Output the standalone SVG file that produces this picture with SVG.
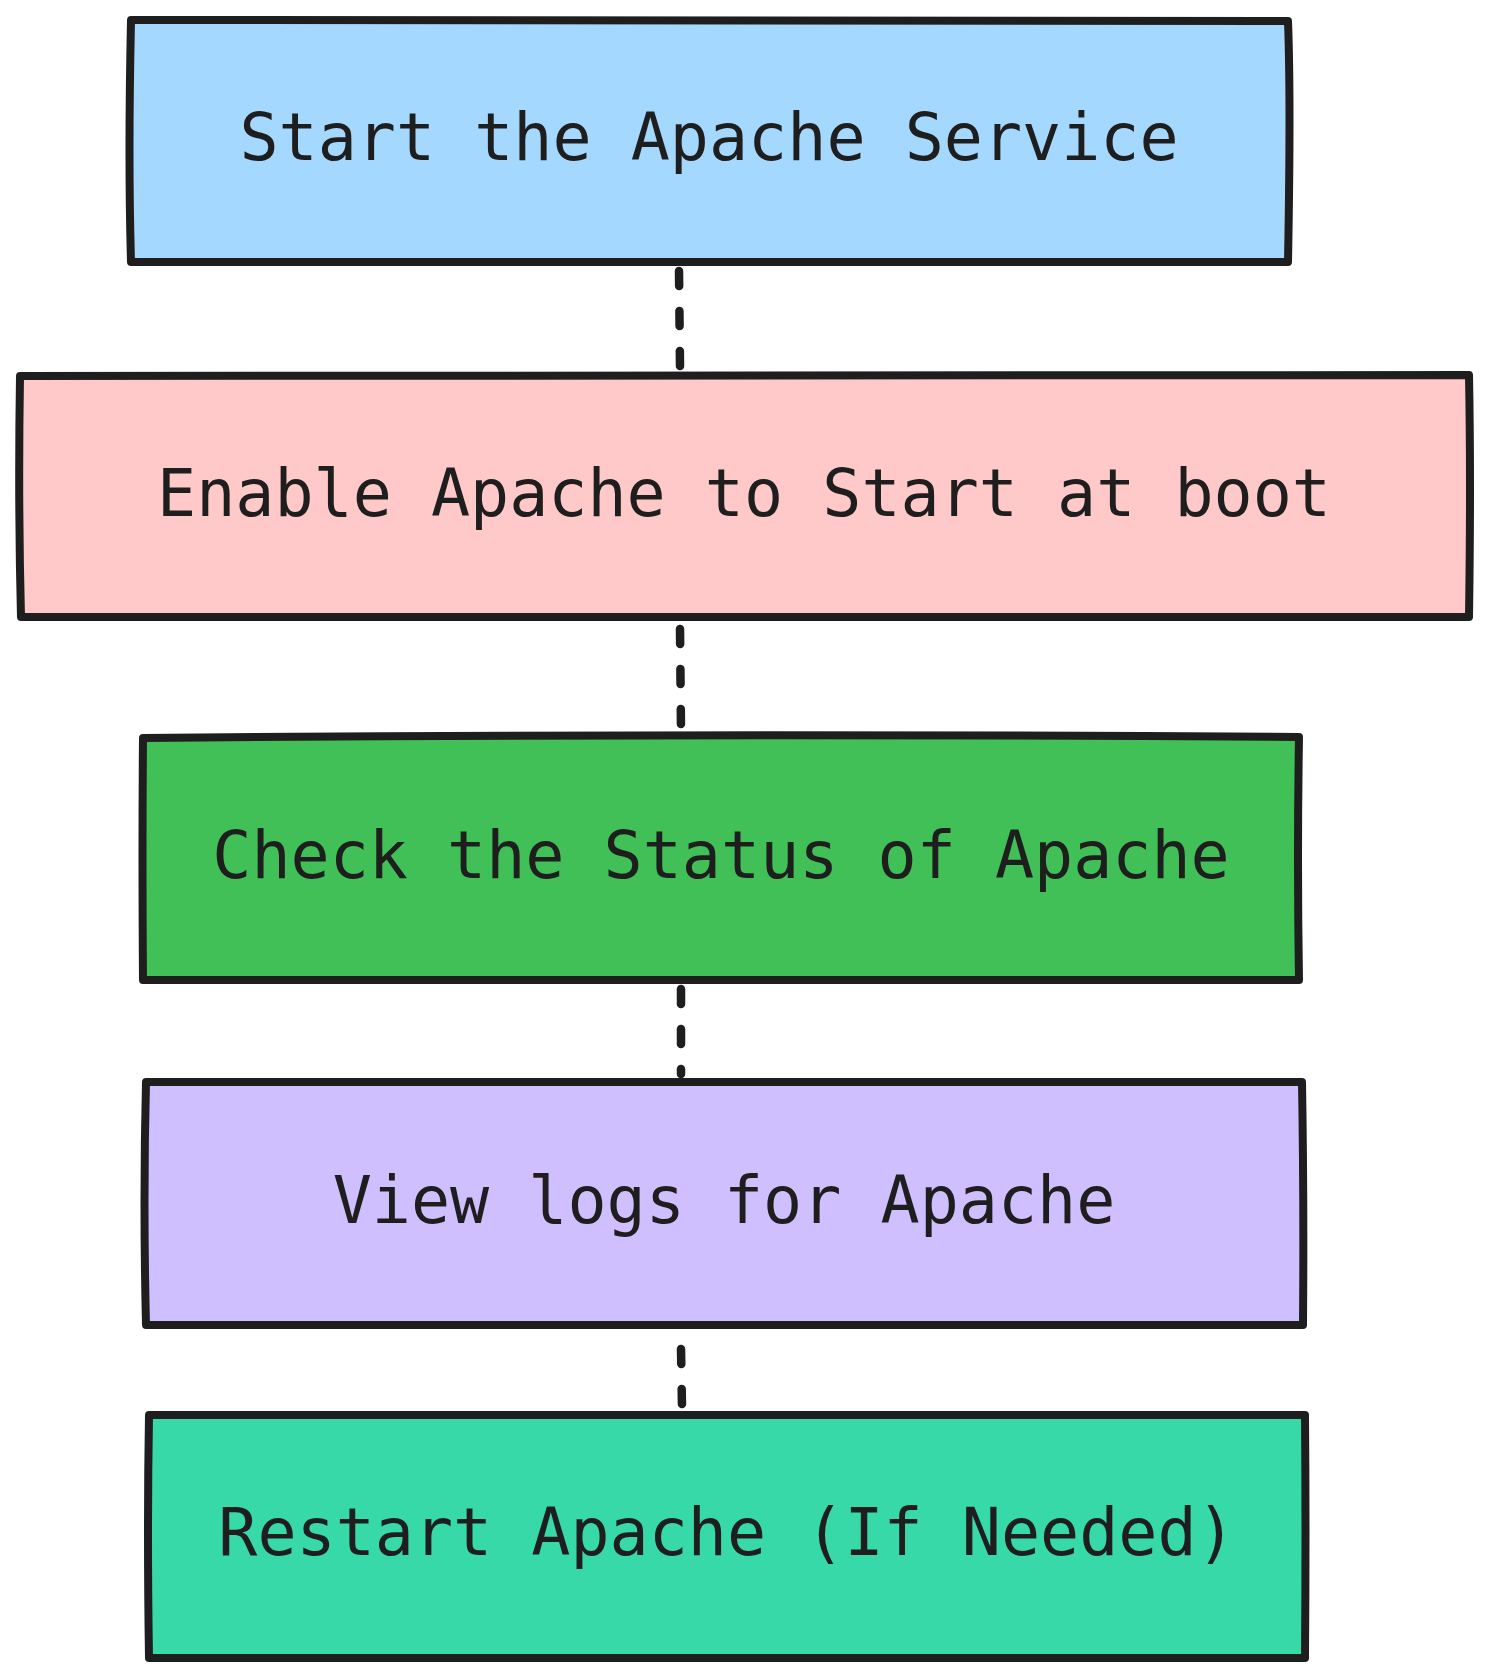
<svg xmlns="http://www.w3.org/2000/svg" width="1490" height="1677" viewBox="0 0 1490 1677">
<style>
.box{stroke:#1e1e1e;stroke-width:8;stroke-linejoin:round;stroke-linecap:round}
.lbl{font-family:"DejaVu Sans Mono","Liberation Mono",monospace;font-size:65px;fill:#1e1e1e;text-anchor:middle}
.edge{stroke:#1e1e1e;stroke-width:8.5;stroke-linecap:round;stroke-dasharray:15 25;fill:none}
</style>
<rect width="1490" height="1677" fill="#ffffff"/>
<g id="connectors">
<path class="edge" d="M679 271 L680 367"/>
<path class="edge" d="M680 629 L681 729"/>
<path class="edge" d="M681 989 L681 1074"/>
<path class="edge" d="M681 1349 L682 1407"/>
</g>
<g id="n1">
<path class="box" fill="#a5d8ff" d="M131 20 L1288 21 Q1291 100 1288 262 L131 262 Q128 160 131 20 Z"/>
<text class="lbl" x="709" y="160">Start the Apache Service</text>
</g>
<g id="n2">
<path class="box" fill="#ffc9c9" d="M20 376 L1469 375 Q1471 480 1469 617 L21 617 Q18 500 20 376 Z"/>
<text class="lbl" x="744" y="516">Enable Apache to Start at boot</text>
</g>
<g id="n3">
<path class="box" fill="#40c057" d="M143 738 Q700 733 1299 737 Q1297 860 1299 980 L143 980 Q142 850 143 738 Z"/>
<text class="lbl" x="721" y="878">Check the Status of Apache</text>
</g>
<g id="n4">
<path class="box" fill="#d0bfff" d="M146 1082 L1302 1082 Q1304 1200 1303 1325 L146 1325 Q143 1200 146 1082 Z"/>
<text class="lbl" x="724" y="1223">View logs for Apache</text>
</g>
<g id="n5">
<path class="box" fill="#38d9a9" d="M149 1415 L1305 1415 Q1306 1530 1305 1658 L149 1658 Q147 1530 149 1415 Z"/>
<text class="lbl" x="727" y="1555">Restart Apache (If Needed)</text>
</g>
</svg>
